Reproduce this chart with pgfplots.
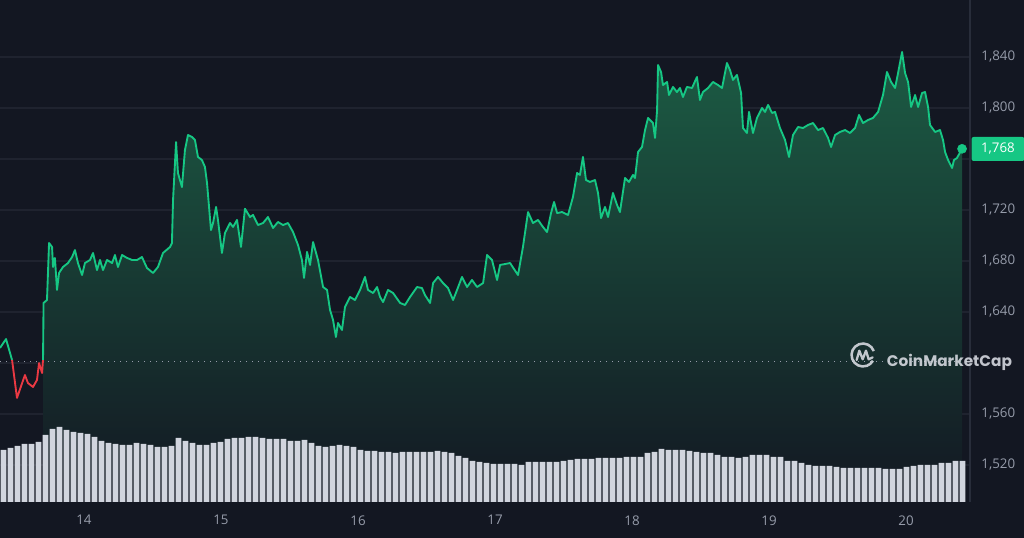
\documentclass[border=0pt]{standalone}
\usepackage{pgfplots}
\usepackage{pgfplotstable}
\pgfplotsset{compat=1.18}
\usepackage{fontspec}
\setmainfont{Open Sans}
\newfontfamily\wmfont{Poppins}
\definecolor{bg}{RGB}{19,23,34}
\definecolor{gridc}{RGB}{31,35,47}
\definecolor{up}{RGB}{22,199,132}
\definecolor{down}{RGB}{234,57,67}
\definecolor{lbl}{RGB}{150,156,170}
\definecolor{vol}{RGB}{209,213,222}
\definecolor{fillc}{RGB}{28,92,68}
\definecolor{wm}{RGB}{218,221,228}
\definecolor{edge}{RGB}{40,45,58}

\pgfplotstableread{
x y
13.387 1611.8
13.431 1618.8
13.475 1602.4
}\pricefirst

\pgfplotstableread{
x y
13.475 1602.4
13.511 1572.6
13.569 1590.6
13.591 1584.3
13.628 1581.2
13.657 1586.7
13.672 1600.0
13.694 1592.2
13.701 1602.4
}\pricered

\pgfplotstableread{
x y
13.701 1602.4
13.705 1647.1
13.730 1649.4
13.745 1694.1
13.767 1691.0
13.774 1675.3
13.788 1682.4
13.803 1657.3
13.818 1670.6
13.847 1675.3
13.883 1678.4
13.913 1683.1
13.934 1688.6
13.956 1678.4
13.986 1669.0
14.007 1678.4
14.044 1680.8
14.066 1686.3
14.095 1672.9
14.117 1680.8
14.139 1672.9
14.168 1680.8
14.205 1678.4
14.226 1684.7
14.248 1675.3
14.278 1684.7
14.314 1682.4
14.351 1680.8
14.387 1680.8
14.423 1683.1
14.460 1674.5
14.504 1670.6
14.540 1675.3
14.577 1686.3
14.628 1691.0
14.642 1694.1
14.650 1727.8
14.672 1773.3
14.686 1749.0
14.715 1738.0
14.737 1767.1
14.759 1778.8
14.788 1777.3
14.810 1774.9
14.832 1761.6
14.861 1759.2
14.883 1753.7
14.898 1741.2
14.927 1704.3
14.942 1709.8
14.964 1722.4
14.978 1712.2
15.007 1686.3
15.029 1702.0
15.066 1709.8
15.088 1706.7
15.117 1712.2
15.146 1691.0
15.175 1721.0
15.212 1714.5
15.234 1716.1
15.270 1708.2
15.307 1709.8
15.343 1714.5
15.380 1705.9
15.416 1710.6
15.453 1708.2
15.489 1709.8
15.526 1702.7
15.562 1692.6
15.591 1680.8
15.606 1666.7
15.628 1687.1
15.650 1676.9
15.672 1694.9
15.708 1680.8
15.745 1659.6
15.774 1657.3
15.796 1641.6
15.818 1633.7
15.839 1620.4
15.854 1631.4
15.883 1625.9
15.905 1643.9
15.942 1651.8
15.978 1649.4
16.015 1657.3
16.051 1667.5
16.073 1657.3
16.110 1654.9
16.139 1659.6
16.161 1651.8
16.183 1647.8
16.219 1657.3
16.256 1654.9
16.307 1647.1
16.343 1645.5
16.380 1651.8
16.431 1659.6
16.467 1658.8
16.489 1653.3
16.526 1647.1
16.548 1662.7
16.584 1667.5
16.621 1662.7
16.657 1658.8
16.694 1649.4
16.723 1657.3
16.759 1667.5
16.796 1659.6
16.832 1665.1
16.869 1659.6
16.913 1662.7
16.942 1684.7
16.978 1680.8
17.015 1665.1
17.037 1676.9
17.110 1678.4
17.168 1669.0
17.204 1691.0
17.241 1718.4
17.277 1709.8
17.314 1712.2
17.350 1706.7
17.380 1702.7
17.409 1717.6
17.431 1726.3
17.453 1717.6
17.489 1718.4
17.533 1716.1
17.569 1730.2
17.599 1749.0
17.620 1747.5
17.642 1761.6
17.664 1743.5
17.693 1742.0
17.730 1743.5
17.752 1733.3
17.774 1713.7
17.803 1722.4
17.825 1714.5
17.861 1733.3
17.891 1723.9
17.912 1718.4
17.949 1745.1
17.978 1742.0
18.007 1747.5
18.022 1745.1
18.044 1765.5
18.073 1769.4
18.095 1782.7
18.117 1792.2
18.153 1788.2
18.168 1776.5
18.183 1798.4
18.190 1833.7
18.212 1828.2
18.226 1818.0
18.256 1820.4
18.270 1810.2
18.299 1816.5
18.328 1812.5
18.350 1815.7
18.372 1808.6
18.401 1816.5
18.438 1815.7
18.474 1824.3
18.496 1806.3
18.518 1812.5
18.555 1815.7
18.591 1820.4
18.628 1818.0
18.657 1815.7
18.693 1835.3
18.715 1829.8
18.737 1822.0
18.766 1825.9
18.796 1811.8
18.810 1784.3
18.839 1780.4
18.854 1796.9
18.883 1780.4
18.912 1792.2
18.949 1800.0
18.971 1796.9
18.993 1802.4
19.022 1796.1
19.044 1796.9
19.080 1784.3
19.117 1774.9
19.146 1761.6
19.175 1778.8
19.212 1785.1
19.248 1784.3
19.285 1786.7
19.321 1788.2
19.358 1782.7
19.394 1784.3
19.431 1776.5
19.453 1769.4
19.482 1778.8
19.518 1781.2
19.555 1782.7
19.591 1780.4
19.628 1784.3
19.657 1794.5
19.686 1788.2
19.723 1790.6
19.759 1792.2
19.796 1796.9
19.832 1810.2
19.861 1828.2
19.891 1820.4
19.920 1815.7
19.942 1827.5
19.971 1843.9
19.993 1827.5
20.015 1820.4
20.037 1800.8
20.066 1810.2
20.088 1800.8
20.117 1811.8
20.139 1812.5
20.161 1800.8
20.175 1786.7
20.212 1781.2
20.248 1782.7
20.270 1774.9
20.285 1765.5
20.307 1759.2
20.336 1752.9
20.350 1759.2
20.372 1760.8
20.409 1768.0
}\pricemain

\pgfplotstableread{
k v
0 52
1 54
2 56
3 58
4 58
5 60
6 67
7 73
8 75
9 72
10 70
11 69
12 68
13 65
14 61
15 59
16 58
17 57
18 57
19 59
20 58
21 57
22 55
23 55
24 56
25 64
26 61
27 59
28 57
29 57
30 59
31 60
32 63
33 64
34 64
35 65
36 65
37 64
38 63
39 63
40 63
41 61
42 61
43 62
44 59
45 56
46 55
47 56
48 57
49 56
50 55
51 52
52 51
53 51
54 50
55 50
56 49
57 50
58 50
59 50
60 50
61 50
62 51
63 50
64 49
65 46
66 44
67 41
68 40
69 39
70 38
71 38
72 38
73 38
74 37
75 40
76 40
77 40
78 40
79 40
80 41
81 42
82 43
83 43
84 43
85 44
86 44
87 44
88 44
89 45
90 45
91 45
92 49
93 50
94 53
95 52
96 52
97 52
98 51
99 50
100 49
101 49
102 47
103 45
104 45
105 44
106 45
107 47
108 47
109 47
110 45
111 45
112 41
113 41
114 39
115 37
116 36
117 36
118 36
119 35
120 34
121 34
122 34
123 34
124 34
125 34
126 33
127 33
128 33
129 35
130 36
131 37
132 37
133 37
134 39
135 39
136 41
137 41
}\voldata

\begin{document}
\begin{tikzpicture}
\useasboundingbox (0,0) rectangle (768pt,403.5pt);
\fill[bg] (0,0) rectangle (768pt,403.5pt);

\begin{axis}[
  at={(0pt,27pt)}, anchor=south west,
  width=727.5pt, height=376.5pt, scale only axis,
  xmin=13.387, xmax=20.467, ymin=1491, ymax=1884.7,
  axis line style={draw=none},
  xtick={14,15,16,17,18,19,20},
  xticklabels={14,15,16,17,18,19,20},
  ytick={1520,1560,1600,1640,1680,1720,1760,1800,1840},
  yticklabels={1{,}520,1{,}560,,1{,}640,1{,}680,1{,}720,,1{,}800,1{,}840},
  yticklabel pos=right,
  major tick length=0pt,
  ymajorgrids, grid style={gridc, line width=0.8pt},
  tick label style={font=\fontsize{10}{12}\selectfont, text=lbl},
  yticklabel style={anchor=west, xshift=5pt},
  xticklabel style={yshift=-6.5pt},
  clip mode=individual,
]
\addplot[draw=none, top color=fillc, bottom color=bg, forget plot] table {\pricemain} -- (axis cs:20.409,1491) -- (axis cs:13.701,1491) -- cycle;
\draw[lbl, line width=0.9pt, dash pattern=on 0.9pt off 3.6pt] (axis cs:13.387,1601) -- (axis cs:20.467,1601);
\addplot[up, line width=1.4pt, line join=round] table {\pricefirst};
\addplot[down, line width=1.4pt, line join=round] table {\pricered};
\addplot[up, line width=1.4pt, line join=round] table {\pricemain};
\addplot[only marks, mark=*, mark size=3.4pt, up] coordinates {(20.409,1768)};
\draw[edge, line width=0.8pt] (rel axis cs:1,0) -- (rel axis cs:1,1);
\end{axis}

\begin{axis}[
  at={(0pt,27pt)}, anchor=south west,
  width=727.5pt, height=376.5pt, scale only axis,
  xmin=-0.5, xmax=138.07, ymin=0, ymax=502,
  axis lines=none, ybar, bar width=0.84,
]
\addplot[fill=vol, draw=none] table[x=k, y=v] {\voldata};
\end{axis}

% price tag
\node[fill=up, rounded corners=1.5pt, anchor=west, minimum width=39.5pt, minimum height=18pt, inner sep=0pt,
      text=white, font=\fontsize{10}{12}\selectfont] at (728.5pt,291.75pt) {1,768};

% watermark
\begin{scope}[wm, opacity=0.88]
  \draw[line width=1.9pt] (647.25pt,137.25pt) ++(20:8.6pt) arc[start angle=20, end angle=330, radius=8.6pt];
  \draw[line width=1.7pt, line join=round, line cap=round]
    (642.5pt,133.5pt) -- (644.5pt,140.5pt) -- (647pt,134pt) -- (649.5pt,140.5pt) -- (651.5pt,134pt) -- (654.5pt,135.5pt);
  \node[anchor=base west, inner sep=0pt, font=\wmfont\bfseries\fontsize{11.5}{13}\selectfont] at (665pt,128.5pt) {CoinMarketCap};
\end{scope}
\end{tikzpicture}
\end{document}
